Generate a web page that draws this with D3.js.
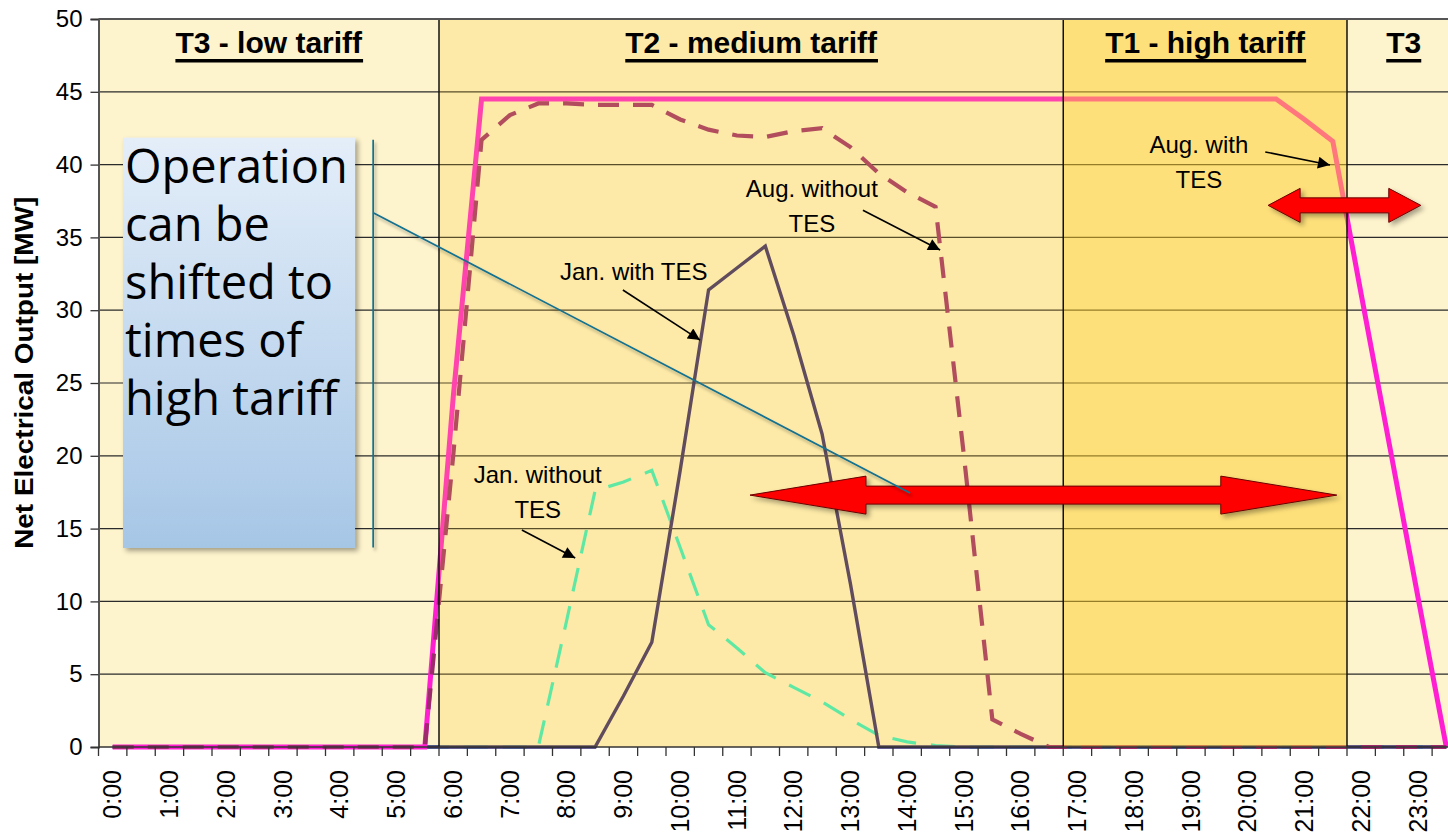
<!DOCTYPE html>
<html>
<head>
<meta charset="utf-8">
<script src="https://cdn.jsdelivr.net/npm/d3@7"></script>
<style>
  body { margin: 0; background: #ffffff; }
  svg { display: block; }
</style>
</head>
<body>
<svg id="chart" width="1448" height="836"></svg>
<script>
// Half-hourly time slots of one day
const categories = [
  "0:00","0:30","1:00","1:30","2:00","2:30","3:00","3:30","4:00","4:30","5:00","5:30",
  "6:00","6:30","7:00","7:30","8:00","8:30","9:00","9:30","10:00","10:30","11:00","11:30",
  "12:00","12:30","13:00","13:30","14:00","14:30","15:00","15:30","16:00","16:30","17:00","17:30",
  "18:00","18:30","19:00","19:30","20:00","20:30","21:00","21:30","22:00","22:30","23:00","23:30"
];
const hourLabels = [
  "0:00","1:00","2:00","3:00","4:00","5:00","6:00","7:00","8:00","9:00","10:00","11:00",
  "12:00","13:00","14:00","15:00","16:00","17:00","18:00","19:00","20:00","21:00","22:00","23:00"
];

// Net electrical output [MW]
const augWithTES = [
  0,0,0,0,0,0,0,0,0,0,0,0,
  24,44.5,44.5,44.5,44.5,44.5,44.5,44.5,44.5,44.5,44.5,44.5,
  44.5,44.5,44.5,44.5,44.5,44.5,44.5,44.5,44.5,44.5,44.5,44.5,
  44.5,44.5,44.5,44.5,44.5,44.5,43.1,41.6,31.1,20.7,10.3,0
];
const augWithoutTES = [
  0,0,0,0,0,0,0,0,0,0,0,0,
  20,41.7,43.4,44.2,44.2,44.1,44.1,44.1,43.1,42.4,42.0,41.9,
  42.3,42.5,41.2,39.4,38.1,37.1,20.0,1.9,0.9,0,0,0,
  0,0,0,0,0,0,0,0,0,0,0,0
];
const janWithTES = [
  0,0,0,0,0,0,0,0,0,0,0,0,
  0,0,0,0,0,0,3.5,7.2,19.0,31.4,32.9,34.4,
  28.3,21.5,11.2,0,0,0,0,0,0,0,0,0,
  0,0,0,0,0,0,0,0,0,0,0,0
];
const janWithoutTES = [
  0,0,0,0,0,0,0,0,0,0,0,0,
  0,0,0,0,8.7,17.6,18.2,19.0,13.7,8.4,6.8,5.1,
  4.1,3.1,1.9,0.8,0.35,0.1,0,0,0,0,0,0,
  0,0,0,0,0,0,0,0,0,0,0,0
];

const yTicks = [0,5,10,15,20,25,30,35,40,45,50];

// Tariff periods
const tariffNames  = ["T3 - low tariff", "T2 - medium tariff", "T1 - high tariff", "T3"];
const tariffStarts = ["0:00", "6:00", "17:00", "22:00"];
const tariffShade  = [0, 0.22, 0.5, 0];

const svg = d3.select("#chart");
const plot = { left: 98.5, right: 1460.5, top: 19, bottom: 747 };

const x = d3.scaleBand().domain(categories).range([plot.left, plot.right]);
const bw = x.bandwidth();
const cx = c => x(c) + bw / 2;
const y = d3.scaleLinear().domain([0, 50]).range([plot.bottom, plot.top]);
// continuous hour position on the time axis (used for callouts)
const hx = h => plot.left + h * 2 * bw;

const defs = svg.append("defs");
const shadow = defs.append("filter").attr("id", "shadow")
  .attr("x", "-10%").attr("y", "-10%").attr("width", "130%").attr("height", "130%");
shadow.append("feDropShadow").attr("dx", 3).attr("dy", 3).attr("stdDeviation", 2.5)
  .attr("flood-color", "#000").attr("flood-opacity", 0.35);
const lineShadow = defs.append("filter").attr("id", "lineShadow")
  .attr("x", "-5%").attr("y", "-20%").attr("width", "110%").attr("height", "140%");
lineShadow.append("feDropShadow").attr("dx", 2).attr("dy", 3).attr("stdDeviation", 1.6)
  .attr("flood-color", "#000").attr("flood-opacity", 0.3);
const grad = defs.append("linearGradient").attr("id", "boxGrad")
  .attr("x1", 0).attr("y1", 0).attr("x2", 0).attr("y2", 1);
grad.append("stop").attr("offset", "0%").attr("stop-color", "#e4eef9");
grad.append("stop").attr("offset", "100%").attr("stop-color", "#a6c6e6");
defs.append("marker").attr("id", "arrowHead")
  .attr("viewBox", "0 0 10 10").attr("refX", 10).attr("refY", 5)
  .attr("markerUnits", "userSpaceOnUse").attr("markerWidth", 15).attr("markerHeight", 12)
  .attr("orient", "auto")
  .append("path").attr("d", "M0,0 L10,5 L0,10 Z").attr("fill", "#000");

// Plot background
svg.append("rect")
  .attr("x", plot.left).attr("y", plot.top)
  .attr("width", plot.right - plot.left).attr("height", plot.bottom - plot.top)
  .attr("fill", "#fdf3cc");

// Horizontal gridlines
svg.append("g").selectAll("line").data(yTicks.filter(v => v > 0 && v < 50)).join("line")
  .attr("x1", plot.left).attr("x2", plot.right)
  .attr("y1", d => y(d)).attr("y2", d => y(d))
  .attr("stroke", "#2b2b2b").attr("stroke-width", 1.2);

// Series
const line = d3.line().x((d, i) => cx(categories[i])).y(d => y(d));
const series = [
  { values: janWithoutTES, color: "#33f0c6", width: 3.2, dash: "24,15" },
  { values: janWithTES,    color: "#35286e", width: 3.4, dash: null },
  { values: augWithTES,    color: "#ff1ed2", width: 5,   dash: null },
  { values: augWithoutTES, color: "#9c2a6c", width: 4.2, dash: "21,14" }
];
svg.append("g").selectAll("path").data(series).join("path")
  .attr("d", d => line(d.values))
  .attr("fill", "none")
  .attr("stroke", d => d.color)
  .attr("stroke-width", d => d.width)
  .attr("stroke-dasharray", d => d.dash)
  .attr("stroke-linejoin", "miter");

// Tariff period shading
const regionEdges = tariffStarts.map(t => x(t)).concat([plot.right]);
svg.append("g").selectAll("rect").data(tariffNames).join("rect")
  .attr("x", (d, i) => regionEdges[i])
  .attr("y", plot.top)
  .attr("width", (d, i) => regionEdges[i + 1] - regionEdges[i])
  .attr("height", plot.bottom - plot.top)
  .attr("fill", "rgb(255,205,40)")
  .attr("fill-opacity", (d, i) => tariffShade[i]);

// Period boundaries
svg.append("g").selectAll("line").data(tariffStarts.slice(1)).join("line")
  .attr("x1", d => x(d)).attr("x2", d => x(d))
  .attr("y1", plot.top).attr("y2", plot.bottom)
  .attr("stroke", "#111").attr("stroke-width", 1.5);

// Top frame line
svg.append("line")
  .attr("x1", plot.left).attr("x2", plot.right)
  .attr("y1", plot.top).attr("y2", plot.top)
  .attr("stroke", "#555").attr("stroke-width", 2);

// Y axis
const yAxis = svg.append("g")
  .attr("transform", `translate(${plot.left},0)`)
  .call(d3.axisLeft(y).tickValues(yTicks).tickSize(8).tickPadding(8).tickFormat(d3.format("d")));
yAxis.select(".domain").attr("stroke", "#555").attr("stroke-width", 2);
yAxis.selectAll(".tick line").attr("stroke", "#333").attr("stroke-width", 1.3);
yAxis.selectAll("text")
  .attr("font-family", "'Liberation Sans', Arial, sans-serif")
  .attr("font-size", 24).attr("fill", "#000");

// X axis
svg.append("line")
  .attr("x1", plot.left).attr("x2", plot.right)
  .attr("y1", plot.bottom).attr("y2", plot.bottom)
  .attr("stroke", "#333").attr("stroke-width", 1.5);
svg.append("g").selectAll("line").data(categories).join("line")
  .attr("x1", d => x(d)).attr("x2", d => x(d))
  .attr("y1", plot.bottom).attr("y2", plot.bottom + 9)
  .attr("stroke", "#333").attr("stroke-width", 1.3);
svg.append("g").selectAll("text").data(hourLabels).join("text")
  .attr("transform", d => `translate(${cx(d)},${plot.bottom + 23}) rotate(-90)`)
  .attr("text-anchor", "end")
  .attr("dy", "0.35em")
  .attr("font-family", "'Liberation Sans', Arial, sans-serif")
  .attr("font-size", 25)
  .attr("fill", "#000")
  .text(d => d);

// Y axis title
svg.append("text")
  .attr("transform", `translate(24,${(y(13.7) + y(37.7)) / 2}) rotate(-90)`)
  .attr("text-anchor", "middle")
  .attr("dy", "0.35em")
  .attr("font-family", "'Liberation Sans', Arial, sans-serif")
  .attr("font-weight", "bold")
  .attr("font-size", 25)
  .attr("textLength", 352)
  .attr("lengthAdjust", "spacingAndGlyphs")
  .text("Net Electrical Output [MW]");

// Tariff labels (bold, underlined)
const tl = svg.append("g").selectAll("g").data(tariffNames).join("g");
tl.append("text")
  .attr("x", (d, i) => (regionEdges[i] + regionEdges[i + 1]) / 2)
  .attr("y", 53)
  .attr("text-anchor", "middle")
  .attr("font-family", "'Liberation Sans', Arial, sans-serif")
  .attr("font-weight", "bold")
  .attr("font-size", 30)
  .attr("fill", "#000")
  .text(d => d);
tl.each(function () {
  const g = d3.select(this);
  const bb = g.select("text").node().getBBox();
  g.append("rect").attr("x", bb.x).attr("y", 59).attr("width", bb.width).attr("height", 3.5).attr("fill", "#000");
});

// Callout box
const boxL = hx(0.432), boxR = hx(4.52), boxT = y(41.85), boxB = y(13.67);
svg.append("rect")
  .attr("x", boxL).attr("y", boxT).attr("width", boxR - boxL).attr("height", boxB - boxT)
  .attr("fill", "url(#boxGrad)").attr("filter", "url(#shadow)");
const calloutLines = ["Operation", "can be", "shifted to", "times of", "high tariff"];
svg.append("g").selectAll("text").data(calloutLines).join("text")
  .attr("x", boxL + 2)
  .attr("y", (d, i) => boxT + 45.5 + i * 58)
  .attr("font-family", "'Open Sans', 'Noto Sans', sans-serif")
  .attr("font-size", 47)
  .attr("fill", "#000")
  .text(d => d);

// Red double arrows
function doubleArrow(x1, x2, cy, hl, hh, sh) {
  return `M${x1},${cy} L${x1 + hl},${cy - hh} L${x1 + hl},${cy - sh} L${x2 - hl},${cy - sh} ` +
         `L${x2 - hl},${cy - hh} L${x2},${cy} L${x2 - hl},${cy + hh} L${x2 - hl},${cy + sh} ` +
         `L${x1 + hl},${cy + sh} L${x1 + hl},${cy + hh} Z`;
}
const redArrows = svg.append("g").attr("filter", "url(#shadow)");
redArrows.append("path")
  .attr("d", doubleArrow(hx(11.48), hx(21.82), y(17.3), 116, 19, 9))
  .attr("fill", "#ff0000").attr("stroke", "#6a0000").attr("stroke-width", 1);
redArrows.append("path")
  .attr("d", doubleArrow(hx(20.61), hx(23.3), y(37.2), 32, 17, 7.5))
  .attr("fill", "#ff0000").attr("stroke", "#6a0000").attr("stroke-width", 1);

// Shift indicator lines (drawn over the arrows)
const teal = svg.append("g").attr("filter", "url(#lineShadow)");
teal.append("line")
  .attr("x1", hx(4.84)).attr("x2", hx(4.84))
  .attr("y1", y(41.7)).attr("y2", y(13.7))
  .attr("stroke", "#13708f").attr("stroke-width", 1.7);
teal.append("line")
  .attr("x1", hx(4.84)).attr("y1", y(36.7))
  .attr("x2", hx(14.3)).attr("y2", y(17.45))
  .attr("stroke", "#13708f").attr("stroke-width", 1.7);

// Series annotations
const notes = [
  { lines: ["Aug. without", "TES"], h: 12.57, v: [37.77, 35.37], anchor: "middle",
    from: [13.47, 36.87], to: [14.83, 34.13] },
  { lines: ["Jan. with TES"], h: 8.13, v: [32.07], anchor: "start",
    from: [9.24, 31.39], to: [10.6, 27.95] },
  { lines: ["Jan. without", "TES"], h: 7.74, v: [18.11, 15.73], anchor: "middle",
    from: [7.46, 14.9], to: [8.4, 12.98] },
  { lines: ["Aug. with", "TES"], h: 19.39, v: [40.8, 38.39], anchor: "middle",
    from: [20.56, 40.87], to: [21.7, 39.97] }
];
const ng = svg.append("g");
notes.forEach(n => {
  n.lines.forEach((t, i) => {
    ng.append("text")
      .attr("x", hx(n.h)).attr("y", y(n.v[i]))
      .attr("text-anchor", n.anchor)
      .attr("font-family", "'Liberation Sans', Arial, sans-serif")
      .attr("font-size", 24)
      .attr("fill", "#000")
      .text(t);
  });
  ng.append("line")
    .attr("x1", hx(n.from[0])).attr("y1", y(n.from[1]))
    .attr("x2", hx(n.to[0])).attr("y2", y(n.to[1]))
    .attr("stroke", "#000").attr("stroke-width", 1.6)
    .attr("marker-end", "url(#arrowHead)");
});
</script>
</body>
</html>
